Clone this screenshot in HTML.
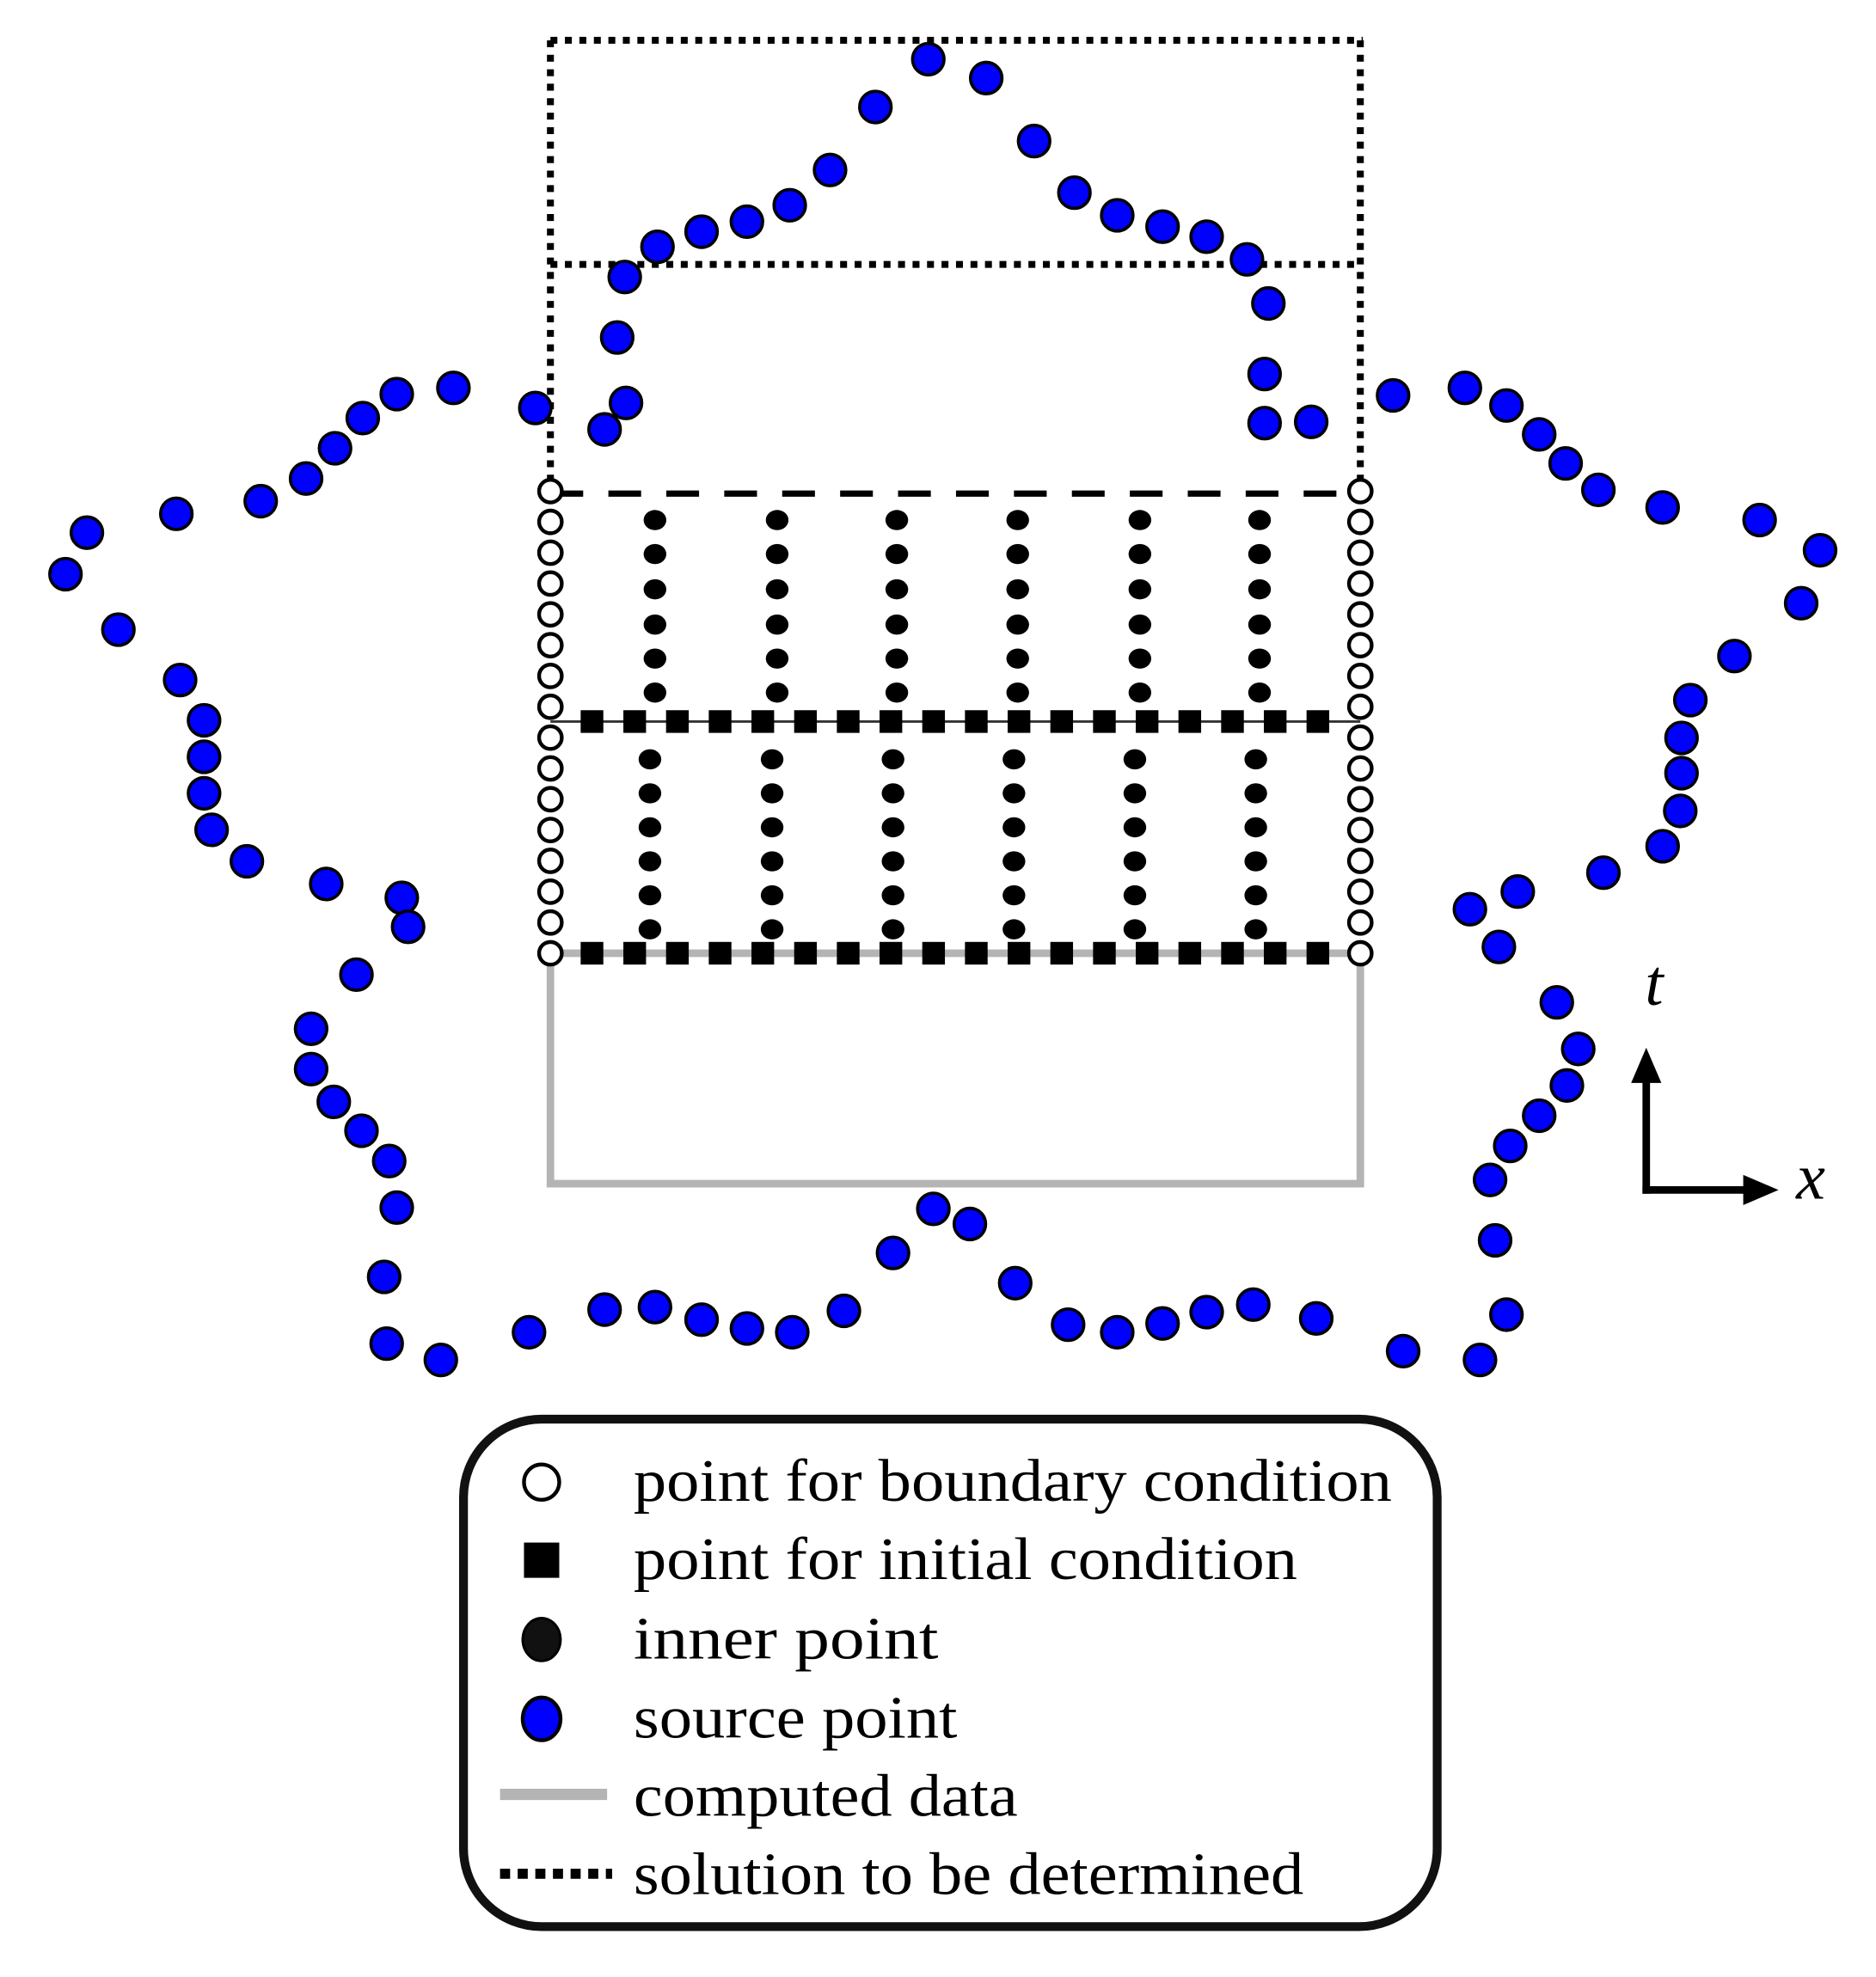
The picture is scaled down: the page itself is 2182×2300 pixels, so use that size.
<!DOCTYPE html>
<html><head><meta charset="utf-8"><style>html,body{margin:0;padding:0;background:#fff}svg{display:block}</style></head>
<body>
<svg id="s" xmlns="http://www.w3.org/2000/svg" width="2182" height="2300" viewBox="0 0 1489.4 1570" preserveAspectRatio="none">
<rect x="0" y="0" width="1489.4" height="1570" fill="#fff"/>
<rect x="437" y="757" width="643" height="183" fill="none" stroke="#b4b4b4" stroke-width="6"/>
<g stroke="#000" stroke-width="5.5" fill="none" stroke-dasharray="5.5 6">
<line x1="437" y1="32" x2="1082" y2="32"/>
<line x1="437" y1="32" x2="437" y2="390"/>
<line x1="1080" y1="32" x2="1080" y2="390"/>
<line x1="437" y1="210" x2="1080" y2="210"/>
</g>
<line x1="437" y1="392" x2="1080" y2="392" stroke="#000" stroke-width="5" stroke-dasharray="26 20"/>
<line x1="437" y1="573" x2="1080" y2="573" stroke="#333" stroke-width="2"/>
<g id="grid"></g>
<g id="src"></g>
<g stroke="#000" stroke-width="6" fill="none">
<line x1="1307" y1="948" x2="1307" y2="855"/>
<line x1="1304" y1="945" x2="1388" y2="945"/>
</g>
<polygon points="1307,832 1295,860 1319,860" fill="#000"/>
<polygon points="1412,945 1384,933 1384,957" fill="#000"/>
<text x="1306" y="798" font-family="Liberation Serif, serif" font-style="italic" font-size="52">t</text>
<text x="1426" y="952" font-family="Liberation Serif, serif" font-style="italic" font-size="52">x</text>
<rect x="368" y="1127" width="773" height="403" rx="62" ry="62" fill="#fff" stroke="#111" stroke-width="7"/>
<circle cx="430" cy="1177" r="14" fill="#fff" stroke="#000" stroke-width="3"/>
<rect x="416" y="1225" width="28" height="28" fill="#000"/>
<ellipse cx="430" cy="1302" rx="15" ry="17" fill="#111" stroke="#000" stroke-width="2"/>
<ellipse cx="430" cy="1365" rx="15" ry="17" fill="#0000ff" stroke="#000" stroke-width="3"/>
<line x1="397" y1="1425" x2="482" y2="1425" stroke="#b4b4b4" stroke-width="9"/>
<line x1="397" y1="1488" x2="486" y2="1488" stroke="#000" stroke-width="8" stroke-dasharray="8 6"/>
<g font-family="Liberation Serif, serif" font-size="48" fill="#000">
<text x="503" y="1192" textLength="602" lengthAdjust="spacingAndGlyphs">point for boundary condition</text>
<text x="503" y="1254" textLength="527" lengthAdjust="spacingAndGlyphs">point for initial condition</text>
<text x="503" y="1317" textLength="242" lengthAdjust="spacingAndGlyphs">inner  point</text>
<text x="503" y="1380" textLength="257" lengthAdjust="spacingAndGlyphs">source point</text>
<text x="503" y="1442" textLength="305" lengthAdjust="spacingAndGlyphs">computed data</text>
<text x="503" y="1504" textLength="532" lengthAdjust="spacingAndGlyphs">solution to be determined</text>
</g>
</svg>
<script>
(function(){
var NS="http://www.w3.org/2000/svg";
function el(p,t,a){var e=document.createElementNS(NS,t);for(var k in a)e.setAttribute(k,a[k]);p.appendChild(e);return e;}
var g=document.getElementById("grid");
var c1=[520,617,712,808,905,1000],r1=[413,440,468,496,523,550];
var c2=[516,613,709,805,901,997],r2=[603,630,657,684,711,738];
c1.forEach(function(x){r1.forEach(function(y){el(g,"ellipse",{cx:x,cy:y,rx:9,ry:8,fill:"#000"});});});
c2.forEach(function(x){r2.forEach(function(y){el(g,"ellipse",{cx:x,cy:y,rx:9,ry:8,fill:"#000"});});});
for(var i=0;i<18;i++){var x=470+i*33.9;[573,757].forEach(function(y){el(g,"rect",{x:x-9,y:y-9,width:18,height:18,fill:"#000"});});}
for(var j=0;j<16;j++){var y=390+j*24.47;[437,1080].forEach(function(x){el(g,"circle",{cx:x,cy:y,r:9,fill:"#fff",stroke:"#000","stroke-width":3});});}
var s=document.getElementById("src");
var P=[[737,47],[783,62],[695,85],[821,112],[659,135],[853,153],[627,163],[887,171],[593,176],[923,180],[557,184],[958,188],[522,196],[990,206],[496,220],[1007,241],[490,268],[1004,297],[497,320],[1004,336],[1041,335],[480,341],[425,324],
[360,308],[315,313],[288,332],[266,356],[243,380],[207,398],[140,408],[69,423],[52,456],[94,500],[143,540],[162,572],[162,601],[162,630],[168,659],[196,684],[259,702],[319,713],[324,736],[283,774],[247,817],[247,849],[265,875],[287,898],[309,922],[315,959],[305,1014],[307,1067],[350,1080],[420,1058],[480,1040],[520,1038],[557,1048],[593,1055],[629,1058],[670,1041],[709,995],[741,960],[770,972],[806,1019],[848,1052],[887,1058],[923,1051],[958,1042],[995,1036],[1045,1047],[1114,1073],[1175,1080],[1196,1044],[1187,985],[1183,937],[1199,910],[1222,886],[1244,862],[1253,833],[1236,796],[1190,752],[1167,722],[1205,708],[1273,693],[1320,672],[1334,644],[1335,614],[1335,586],[1342,556],[1377,521],[1430,479],[1445,437],[1397,413],[1320,403],[1269,389],[1243,368],[1222,345],[1196,322],[1163,308],[1106,314]];
P.forEach(function(p){el(s,"circle",{cx:p[0],cy:p[1],r:12.5,fill:"#0000ff",stroke:"#000","stroke-width":2.5});});
})();
</script>
</body></html>
